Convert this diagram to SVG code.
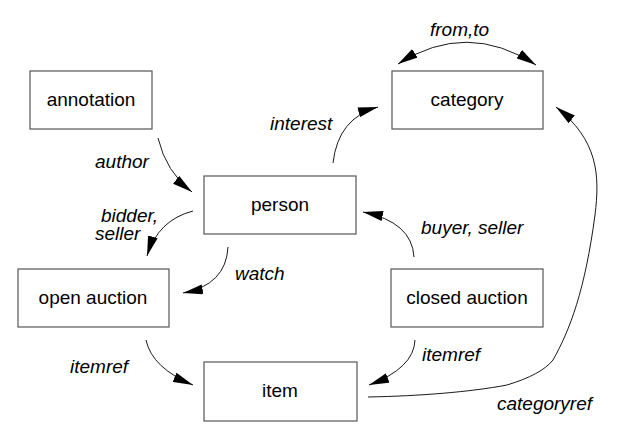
<svg xmlns="http://www.w3.org/2000/svg" width="634" height="447" viewBox="0 0 634 447">
<defs>
<marker id="ah" viewBox="0 0 20 10" refX="20" refY="5" markerWidth="20" markerHeight="10" markerUnits="userSpaceOnUse" orient="auto-start-reverse">
<path d="M0,0 L20,5 L0,10 z" fill="#000"/>
</marker>
<style>
.box{fill:#fff;stroke:#555;stroke-width:1.2}
.lbl{font-family:"Liberation Sans",Arial,sans-serif;font-size:19px;fill:#000;text-anchor:middle}
.el{font-family:"Liberation Sans",Arial,sans-serif;font-size:19px;font-style:italic;fill:#000}
.edge{fill:none;stroke:#000;stroke-width:0.9}
</style>
</defs>
<rect width="634" height="447" fill="#fff"/>
<g id="annotation"><rect class="box" x="30" y="71" width="122" height="58"/><text class="lbl" x="91" y="106">annotation</text></g>
<g id="category"><rect class="box" x="392" y="71" width="151" height="58"/><text class="lbl" x="467" y="106">category</text></g>
<g id="person"><rect class="box" x="204" y="176" width="152" height="58"/><text class="lbl" x="280" y="211">person</text></g>
<g id="open_auction"><rect class="box" x="18" y="269" width="151" height="58"/><text class="lbl" x="93" y="304">open auction</text></g>
<g id="closed_auction"><rect class="box" x="391" y="269" width="152" height="58"/><text class="lbl" x="467" y="304">closed auction</text></g>
<g id="item"><rect class="box" x="204" y="362" width="153" height="59"/><text class="lbl" x="280" y="397">item</text></g>
<g id="connectors">
<path class="edge" d="M398,64 Q467,20 536,65" marker-start="url(#ah)" marker-end="url(#ah)"/>
<path class="edge" d="M333,163 Q338,118 378,107" marker-end="url(#ah)"/>
<path class="edge" d="M158,138 Q166,172 192,192" marker-end="url(#ah)"/>
<path class="edge" d="M193,211 Q158,220 147,256" marker-end="url(#ah)"/>
<path class="edge" d="M228,247 Q226,285 183,293" marker-end="url(#ah)"/>
<path class="edge" d="M414,257 Q412,222 363,212" marker-end="url(#ah)"/>
<path class="edge" d="M146,340 Q152,368 193,385" marker-end="url(#ah)"/>
<path class="edge" d="M415,340 Q414,368 369,385" marker-end="url(#ah)"/>
<path class="edge" d="M368,397 C420,396 470,392 507,385 C530,378 545,370 553,360 C570,330 585,290 595,215 C600,175 598,140 556,107" marker-end="url(#ah)"/>
<text class="el" x="430" y="36">from,to</text>
<text class="el" x="270" y="130">interest</text>
<text class="el" x="95" y="168">author</text>
<text class="el" x="101" y="222">bidder,</text>
<text class="el" x="95" y="240">seller</text>
<text class="el" x="235" y="280">watch</text>
<text class="el" x="421" y="234">buyer, seller</text>
<text class="el" x="70" y="373">itemref</text>
<text class="el" x="422" y="361">itemref</text>
<text class="el" x="497" y="410">categoryref</text>
</g>
</svg>
